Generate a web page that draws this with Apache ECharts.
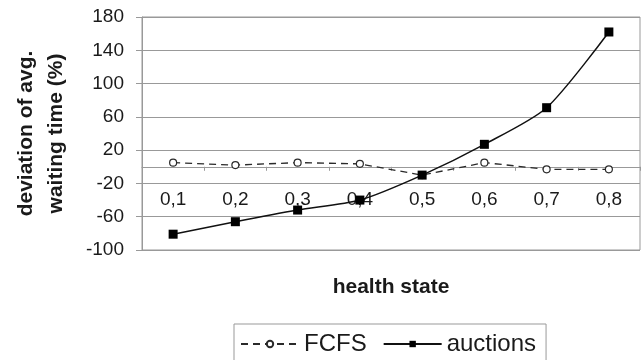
<!DOCTYPE html>
<html>
<head>
<meta charset="utf-8">
<script src="https://cdn.jsdelivr.net/npm/echarts@6/dist/echarts.min.js"></script>
<style>
  html, body { margin: 0; padding: 0; background: #fff; }
  #chart { width: 643px; height: 360px; }
</style>
</head>
<body>
<div id="chart"></div>
<script>
// Health state categories on the x axis
const healthStates = ['0,1', '0,2', '0,3', '0,4', '0,5', '0,6', '0,7', '0,8'];
// Deviation of average waiting time (%) per scheduling policy
const fcfsValues = [5, 2, 5, 3.5, -10, 5, -3, -3];
const auctionValues = [-81, -66, -52, -40, -10, 27, 71, 162];
// Value axis range and labelled ticks
const yMin = -100;
const yMax = 180;
const yTicks = [-100, -60, -20, 20, 60, 100, 140, 180];

const FONT = '"Liberation Sans", Arial, sans-serif';
const GRID_GRAY = '#999999';
const TEXT = '#1a1a1a';

const chart = echarts.init(document.getElementById('chart'), null, { renderer: 'canvas' });

chart.setOption({
  backgroundColor: '#ffffff',
  animation: false,
  grid: {
    left: 142, right: 3, top: 17, bottom: 110,
    outerBoundsMode: 'none',
    containLabel: false,
    show: true, borderColor: GRID_GRAY, borderWidth: 1
  },
  legend: {
    left: 234, top: 324,
    padding: [8, 10, 12, 6],
    borderColor: GRID_GRAY, borderWidth: 1,
    itemWidth: 58, itemHeight: 8, itemGap: 16,
    textStyle: { fontFamily: FONT, fontSize: 24, color: TEXT },
    data: ['FCFS', 'auctions']
  },
  xAxis: {
    type: 'category',
    data: healthStates,
    boundaryGap: true,
    name: 'health state',
    nameLocation: 'middle',
    nameGap: 27,
    nameMoveOverlap: false,
    nameTextStyle: { fontFamily: FONT, fontSize: 21, fontWeight: 'bold', color: TEXT },
    axisLine: { onZero: true, lineStyle: { color: GRID_GRAY, width: 1 } },
    axisTick: { show: true, interval: 0, length: 4, lineStyle: { color: GRID_GRAY } },
    axisLabel: { interval: 0, margin: -60, fontFamily: FONT, fontSize: 19, color: TEXT },
    splitLine: { show: false }
  },
  yAxis: {
    type: 'value',
    min: yMin, max: yMax, interval: 20,
    name: 'deviation of avg.\nwaiting time (%)',
    nameLocation: 'middle',
    nameGap: 71,
    nameMoveOverlap: false,
    nameTextStyle: { fontFamily: FONT, fontSize: 21, fontWeight: 'bold', color: TEXT, lineHeight: 30 },
    axisLine: { show: true, lineStyle: { color: GRID_GRAY, width: 1 } },
    axisTick: { show: true, customValues: yTicks, length: 6, lineStyle: { color: GRID_GRAY } },
    axisLabel: { customValues: yTicks, margin: 18, fontFamily: FONT, fontSize: 19, color: TEXT },
    splitLine: { show: true, lineStyle: { color: GRID_GRAY, width: 1 } }
  },
  series: [
    {
      name: 'FCFS',
      type: 'line',
      data: fcfsValues,
      symbol: 'circle',
      symbolSize: 7,
      lineStyle: { color: '#2a2a2a', width: 1.3, type: [7, 5] },
      itemStyle: { color: '#ffffff', borderColor: '#2a2a2a', borderWidth: 1.2 },
      z: 2
    },
    {
      name: 'auctions',
      type: 'line',
      data: auctionValues,
      smooth: 0.25,
      symbol: 'rect',
      symbolSize: 9,
      lineStyle: { color: '#111', width: 1.5 },
      itemStyle: { color: '#000' },
      z: 3
    }
  ]
});
</script>
</body>
</html>
